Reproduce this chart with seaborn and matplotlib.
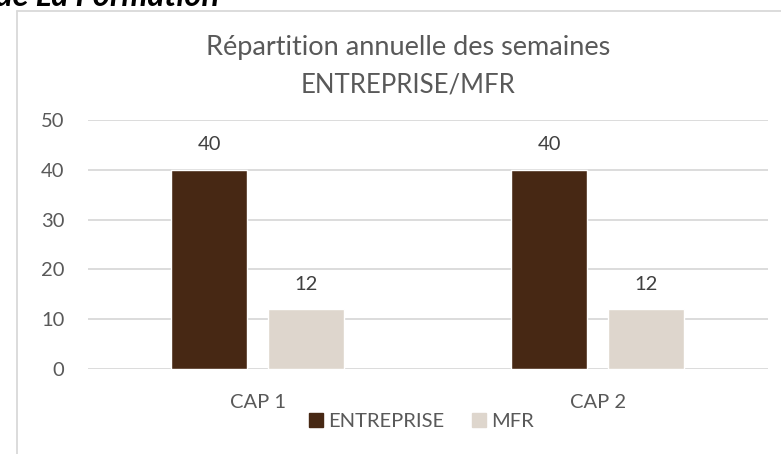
import matplotlib
matplotlib.use("Agg")
import matplotlib.pyplot as plt
import seaborn as sns
import pandas as pd
from matplotlib.lines import Line2D

categories = ["CAP 1", "CAP 2"]
series_names = ["ENTREPRISE", "MFR"]
entreprise = [40, 40]
mfr = [12, 12]
yticks = [0, 10, 20, 30, 40, 50]
title_lines = ["Répartition annuelle des semaines", "ENTREPRISE/MFR"]

df = pd.DataFrame({
    "cat": categories * 2,
    "serie": [series_names[0]] * 2 + [series_names[1]] * 2,
    "val": entreprise + mfr,
})

sns.set_theme(style="white")
plt.rcParams["font.family"] = ["Lato", "DejaVu Sans"]
text_color = "#595959"
fs = 14.5

fig = plt.figure(figsize=(7.81, 4.54), dpi=100)
ax = fig.add_axes([88 / 781, 85 / 454, 679.5 / 781, 249 / 454])

palette = {"ENTREPRISE": "#472814", "MFR": "#DED6CD"}
sns.barplot(data=df, x="cat", y="val", hue="serie", palette=palette,
            width=0.571, gap=0.216, ax=ax, saturation=1, legend=False)

ax.set_ylim(0, 50)
ax.set_yticks(yticks)
ax.yaxis.grid(True, color="#D9D9D9", linewidth=1.3)
ax.set_axisbelow(True)
for s in ax.spines.values():
    s.set_visible(False)
ax.tick_params(axis="both", length=0, labelsize=fs, labelcolor=text_color)
ax.tick_params(axis="y", pad=17)
ax.tick_params(axis="x", pad=18)
ax.set_xlabel("")
ax.set_ylabel("")

for cont in ax.containers:
    ax.bar_label(cont, padding=12, fontsize=fs, color="#404040")

cx = 408.5 / 781
fig.text(cx, 1 - 55 / 454, title_lines[0], ha="center", va="baseline",
         fontsize=19.5, color=text_color)
fig.text(cx, 1 - 93 / 454, title_lines[1], ha="center", va="baseline",
         fontsize=18.5, color=text_color)

handles = [Line2D([], [], marker="s", linestyle="none", markersize=10.5,
                  markerfacecolor=palette[n], markeredgecolor=palette[n]) for n in series_names]
fig.legend(handles, series_names, loc="center", bbox_to_anchor=(420 / 781, 1 - 421 / 454),
           ncol=2, frameon=False, fontsize=fs, labelcolor=text_color,
           handletextpad=0.1, columnspacing=1.2, handlelength=1.0)

# chart frame
fig.add_artist(Line2D([17 / 781, 17 / 781], [0, 1 - 11 / 454], transform=fig.transFigure,
                      color="#D9D9D9", linewidth=1.3))
fig.add_artist(Line2D([17 / 781, 1], [1 - 11 / 454, 1 - 11 / 454], transform=fig.transFigure,
                      color="#D9D9D9", linewidth=1.3))

# heading above the chart, cut off by the top edge as in the reference
fig.text(219 / 781, 1 - 6 / 454, "de La Formation", ha="right", va="baseline",
         fontsize=23.5, fontweight="bold", fontstyle="italic", color="black")

fig.savefig("out.png", dpi=100)
